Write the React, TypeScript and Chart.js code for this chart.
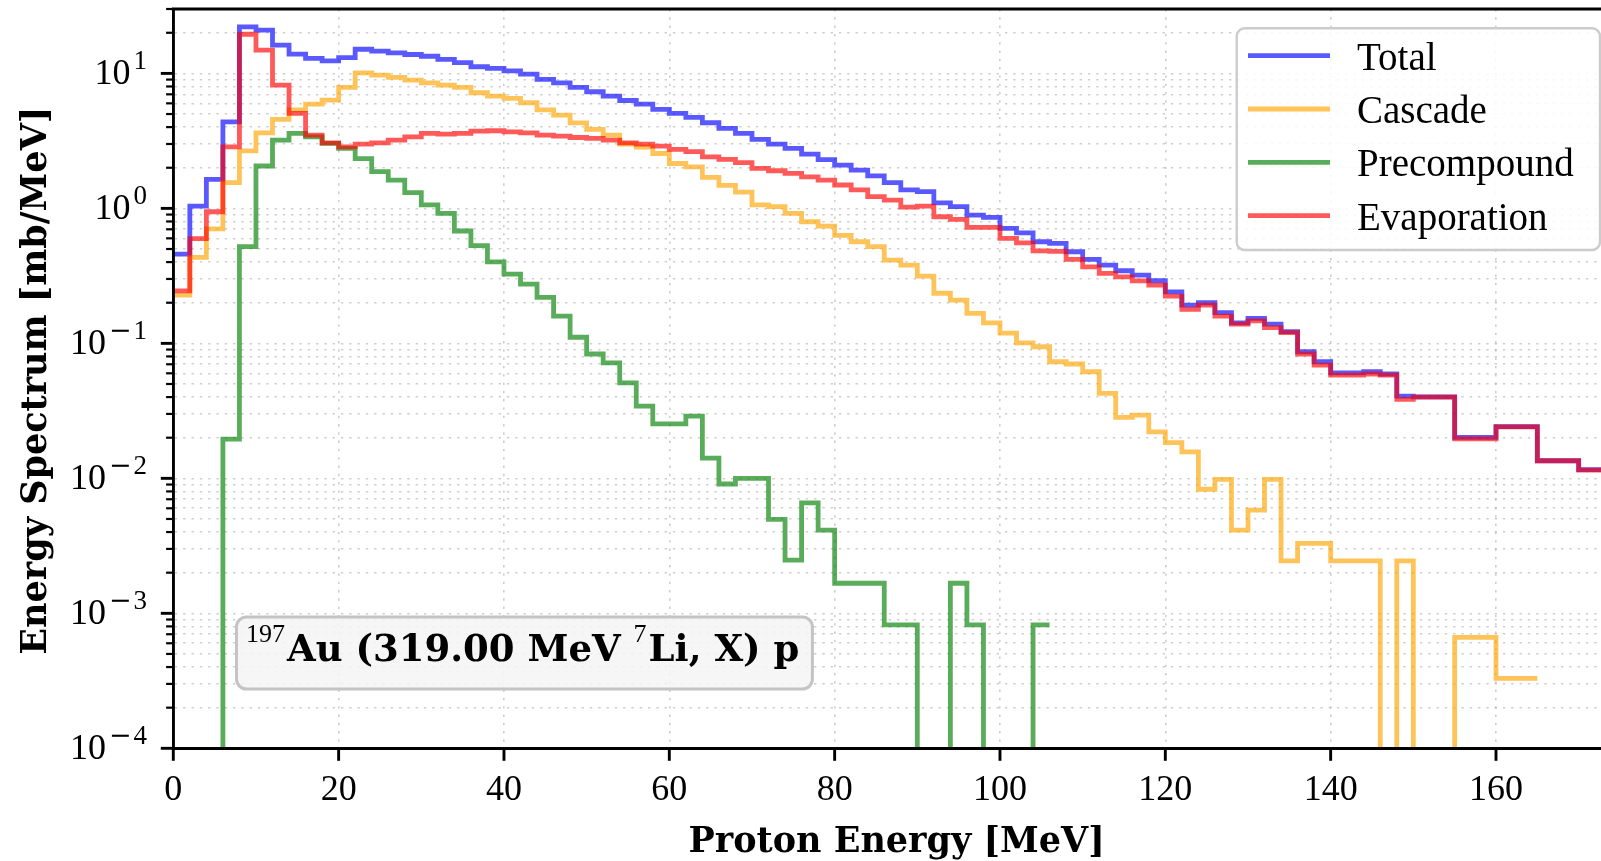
import React, { useEffect, useRef } from 'react';
import { Chart, registerables } from 'chart.js';

Chart.register(...registerables);

// ---------------- data ----------------
const binEdges: number[] = [
  0, 2, 4, 6, 8, 10, 12, 14, 16, 18, 20, 22, 24, 26, 28, 30, 32, 34, 36, 38,
  40, 42, 44, 46, 48, 50, 52, 54, 56, 58, 60, 62, 64, 66, 68, 70, 72, 74, 76, 78,
  80, 82, 84, 86, 88, 90, 92, 94, 96, 98, 100, 102, 104, 106, 108, 110, 112, 114, 116, 118,
  120, 122, 124, 126, 128, 130, 132, 134, 136, 138, 140, 142, 144, 146, 148, 150,
  155, 160, 165, 170, 175,
];

const totalValues: number[] = [
  0.458, 1.04, 1.64, 4.38, 22.1, 20.9, 16.2, 13.9, 12.9, 12.4,
  13.1, 15.1, 14.6, 14.2, 13.8, 13.4, 12.7, 12.0, 11.2, 10.9,
  10.45, 9.88, 9.02, 8.51, 7.87, 7.31, 6.79, 6.3, 5.93, 5.41,
  5.06, 4.72, 4.31, 3.91, 3.6, 3.24, 2.99, 2.78, 2.52, 2.3,
  2.09, 1.92, 1.74, 1.55, 1.37, 1.33, 1.1, 1.03, 0.892, 0.857,
  0.711, 0.659, 0.566, 0.551, 0.477, 0.419, 0.38, 0.345, 0.32, 0.291,
  0.241, 0.192, 0.2, 0.169, 0.142, 0.153, 0.139, 0.122, 0.0867, 0.0731,
  0.0605, 0.0605, 0.0616, 0.0593, 0.0407,
  0.0402, 0.0201, 0.0242, 0.0135, 0.0116,
];

const cascadeValues: number[] = [
  0.228, 0.434, 0.706, 1.55, 2.67, 3.63, 4.56, 5.36, 5.93, 6.34,
  7.87, 10.1, 9.7, 9.33, 8.91, 8.51, 8.19, 7.87, 7.19, 6.79,
  6.53, 6.06, 5.36, 4.91, 4.3, 3.85, 3.49, 3.0, 2.85, 2.55,
  2.15, 2.03, 1.7, 1.48, 1.32, 1.06, 1.03, 0.918, 0.796, 0.74,
  0.63, 0.566, 0.52, 0.414, 0.38, 0.315, 0.235, 0.209, 0.167, 0.142,
  0.119, 0.101, 0.0944, 0.0731, 0.0703, 0.0616, 0.0426, 0.0283, 0.0294, 0.0221,
  0.0184, 0.0157, 0.0083, 0.00984, 0.00414, 0.00582, 0.00984, 0.00245, 0.0033, 0.0033,
  0.00245, 0.00245, 0.00245, 0, 0.00245,
  0, 0.000664, 0.00033,
];

const precompoundValues: number[] = [
  0, 0, 0, 0.0195, 0.52, 2.06, 3.2, 3.6, 3.39, 3.03,
  2.78, 2.34, 1.87, 1.62, 1.31, 1.06, 0.918, 0.68, 0.53, 0.402,
  0.326, 0.275, 0.219, 0.159, 0.111, 0.0834, 0.0718, 0.051, 0.0343, 0.0253,
  0.0253, 0.0289, 0.0141, 0.00908, 0.01, 0.01, 0.00497, 0.00248, 0.00659, 0.00414,
  0.00167, 0.00167, 0.00167, 0.00082, 0.00082, 0, 0, 0.00167, 0.00082, 0,
  0, 0, 0.00082,
];

const evaporationValues: number[] = [
  0.245, 0.596, 0.944, 2.86, 19.5, 14.9, 8.19, 5.06, 3.49, 3.06,
  2.86, 2.99, 3.06, 3.2, 3.39, 3.6, 3.55, 3.6, 3.74, 3.76,
  3.69, 3.63, 3.49, 3.43, 3.35, 3.3, 3.2, 3.06, 2.99, 2.89,
  2.74, 2.63, 2.41, 2.31, 2.18, 1.98, 1.9, 1.82, 1.71, 1.62,
  1.49, 1.37, 1.22, 1.15, 1.02, 1.04, 0.867, 0.829, 0.723, 0.723,
  0.6, 0.556, 0.485, 0.48, 0.419, 0.369, 0.33, 0.311, 0.29, 0.27,
  0.224, 0.179, 0.192, 0.159, 0.139, 0.147, 0.131, 0.12, 0.0834, 0.069,
  0.0582, 0.0582, 0.0593, 0.0582, 0.0385,
  0.04, 0.0196, 0.0241, 0.0135, 0.0115,
];

const seriesLabels: string[] = ['Total', 'Cascade', 'Precompound', 'Evaporation'];
const seriesColors: string[] = [
  'rgba(0,0,255,0.65)',
  'rgba(255,165,0,0.65)',
  'rgba(0,128,0,0.65)',
  'rgba(255,0,0,0.65)',
];

const xTickValues: number[] = [0, 20, 40, 60, 80, 100, 120, 140, 160];
const yDecades: number[] = [1e-4, 1e-3, 1e-2, 1e-1, 1, 10];
const yMinorMultipliers: number[] = [2, 3, 4, 5, 6, 7, 8, 9];

const xTitle = 'Proton Energy [MeV]';
const yTitle = 'Energy Spectrum [mb/MeV]';
const annotationParts: { text: string; sup: boolean }[] = [
  { text: '197', sup: true },
  { text: 'Au (319.00 MeV ', sup: false },
  { text: '7', sup: true },
  { text: 'Li, X) p', sup: false },
];

// ---------------- layout / style ----------------
const X_MIN = 0;
const X_MAX = 175;
const Y_MIN = 1e-4;
const Y_MAX = 30;
const ZERO_FLOOR = 1e-7; // empty bins drawn below the axis floor (like -inf in log)

const CANVAS_W = 1620;
const CANVAS_H = 861;
const AREA_LEFT = 173.3;
const AREA_TOP = 9;
const AREA_BOTTOM = 748.3;

const SPINE_W = 2.9;
const MAJOR_TICK_LEN = 12.5;
const MINOR_TICK_LEN = 7.2;
const MAJOR_TICK_W = 2.9;
const MINOR_TICK_W = 2.2;
const LINE_W = 4.8;
const GRID_COLOR = 'rgba(160,160,160,0.5)';

const TICK_FONT = '36px "Liberation Serif"';
const SUP_FONT = '27px "Liberation Serif"';
const MINUS_FONT = '27px "DejaVu Serif"';
const TITLE_FONT = 'bold 35px "DejaVu Serif"';
const LEGEND_FONT = '39px "Liberation Serif"';
const ANN_FONT = 'bold 37px "DejaVu Serif"';
const ANN_SUP_FONT = '26px "Liberation Serif"';

const yTickValues: number[] = (() => {
  const out: number[] = [];
  yDecades.forEach((d) => {
    out.push(d);
    yMinorMultipliers.forEach((m) => {
      const v = d * m;
      if (v <= Y_MAX * 1.0000001) out.push(v);
    });
  });
  return out;
})();

const isDecade = (v: number) => Math.abs(Math.log10(v) - Math.round(Math.log10(v))) < 1e-6;

function stepPoints(values: number[]) {
  const pts = values.map((v, i) => ({ x: binEdges[i], y: v > 0 ? v : ZERO_FLOOR }));
  pts.push({ x: binEdges[values.length], y: pts[pts.length - 1].y });
  return pts;
}

const allSeries = [totalValues, cascadeValues, precompoundValues, evaporationValues];
const drawOrder = [4, 3, 2, 1]; // evaporation on top

const overlayPlugin = {
  id: 'overlay',
  afterDraw(chart: any) {
    const ctx: CanvasRenderingContext2D = chart.ctx;
    const area = chart.chartArea;
    const xs = chart.scales.x;
    const ys = chart.scales.y;
    ctx.save();
    ctx.setLineDash([]);
    ctx.strokeStyle = '#000';
    ctx.fillStyle = '#000';
    ctx.lineCap = 'butt';

    // top spine
    ctx.lineWidth = SPINE_W;
    ctx.beginPath();
    ctx.moveTo(area.left - SPINE_W / 2, area.top);
    ctx.lineTo(area.right, area.top);
    ctx.stroke();

    // x ticks
    ctx.lineWidth = MAJOR_TICK_W;
    xs.ticks.forEach((t: any) => {
      const px = xs.getPixelForValue(t.value);
      ctx.beginPath();
      ctx.moveTo(px, area.bottom);
      ctx.lineTo(px, area.bottom + MAJOR_TICK_LEN);
      ctx.stroke();
    });
    // y ticks
    ys.ticks.forEach((t: any) => {
      const py = ys.getPixelForValue(t.value);
      const major = isDecade(t.value);
      ctx.lineWidth = major ? MAJOR_TICK_W : MINOR_TICK_W;
      ctx.beginPath();
      ctx.moveTo(area.left, py);
      ctx.lineTo(area.left - (major ? MAJOR_TICK_LEN : MINOR_TICK_LEN), py);
      ctx.stroke();
    });

    // x tick labels
    ctx.font = TICK_FONT;
    ctx.textAlign = 'center';
    ctx.textBaseline = 'alphabetic';
    xs.ticks.forEach((t: any) => {
      ctx.fillText(String(t.value), xs.getPixelForValue(t.value), 800);
    });

    // y tick labels (10 with superscript exponent)
    const yLabelRight = 147;
    ctx.textAlign = 'left';
    ys.ticks.forEach((t: any) => {
      if (!isDecade(t.value)) return;
      const py = ys.getPixelForValue(t.value);
      const exp = Math.round(Math.log10(t.value));
      const digits = String(Math.abs(exp));
      ctx.font = SUP_FONT;
      const wDigits = ctx.measureText(digits).width;
      let wMinus = 0;
      if (exp < 0) {
        ctx.font = MINUS_FONT;
        wMinus = ctx.measureText('\u2212').width + 2;
      }
      const xDigits = yLabelRight - wDigits;
      const xMinus = xDigits - wMinus;
      ctx.font = TICK_FONT;
      const wBase = ctx.measureText('10').width;
      const xBase = xMinus - 3 - wBase;
      ctx.fillText('10', xBase, py + 11);
      ctx.font = SUP_FONT;
      ctx.fillText(digits, xDigits, py - 4);
      if (exp < 0) {
        ctx.font = MINUS_FONT;
        ctx.fillText('\u2212', xMinus, py - 4);
      }
    });

    // axis titles
    ctx.font = TITLE_FONT;
    ctx.textAlign = 'center';
    ctx.fillText(xTitle, (area.left + area.right) / 2, 851.5);
    ctx.save();
    ctx.translate(46, (area.top + area.bottom) / 2 + 2);
    ctx.rotate(-Math.PI / 2);
    ctx.fillText(yTitle, 0, 0);
    ctx.restore();

    // legend
    const lx = 1236.7, ly = 28.3, lw = 1600 - 1236.7, lh = 250 - 28.3;
    ctx.beginPath();
    (ctx as any).roundRect(lx, ly, lw, lh, 8);
    ctx.fillStyle = 'rgba(255,255,255,0.85)';
    ctx.fill();
    ctx.strokeStyle = '#cccccc';
    ctx.lineWidth = 2.4;
    ctx.stroke();
    const rowY = [55.7, 109, 162.3, 215.7];
    chart.data.datasets.forEach((ds: any, i: number) => {
      ctx.strokeStyle = ds.borderColor;
      ctx.lineWidth = LINE_W;
      ctx.beginPath();
      ctx.moveTo(1248, rowY[i]);
      ctx.lineTo(1330, rowY[i]);
      ctx.stroke();
      ctx.fillStyle = '#000';
      ctx.font = LEGEND_FONT;
      ctx.textAlign = 'left';
      ctx.fillText(ds.label, 1357, rowY[i] + 14);
    });

    // annotation box
    ctx.beginPath();
    (ctx as any).roundRect(236.5, 617, 812.4 - 236.5, 72, 10);
    ctx.fillStyle = 'rgba(245,245,245,0.85)';
    ctx.fill();
    ctx.strokeStyle = '#c4c4c4';
    ctx.lineWidth = 3;
    ctx.stroke();
    ctx.fillStyle = '#000';
    ctx.textAlign = 'left';
    let cx = 246;
    annotationParts.forEach((p) => {
      ctx.font = p.sup ? ANN_SUP_FONT : ANN_FONT;
      ctx.fillText(p.text, cx, p.sup ? 642 : 661);
      cx += ctx.measureText(p.text).width + (p.sup ? 2 : 0);
    });

    ctx.restore();
  },
};

export default function App() {
  const ref = useRef<HTMLCanvasElement>(null);
  useEffect(() => {
    const canvas = ref.current;
    if (!canvas) return;
    const datasets = allSeries.map((vals, i) => ({
      label: seriesLabels[i],
      data: stepPoints(vals),
      borderColor: seriesColors[i],
      backgroundColor: seriesColors[i],
      borderWidth: LINE_W,
      pointRadius: 0,
      pointHoverRadius: 0,
      stepped: true,
      tension: 0,
      fill: false,
      order: drawOrder[i],
      borderJoinStyle: 'miter' as const,
      borderCapStyle: 'butt' as const,
    }));
    const gridOpts = { color: GRID_COLOR, lineWidth: 1.6, drawTicks: false };
    const borderOpts = { display: true, color: '#000', width: SPINE_W, dash: [2.4, 5.9], z: 1 };
    const chart = new Chart(canvas, {
      type: 'line',
      data: { datasets },
      options: {
        animation: false,
        responsive: false,
        maintainAspectRatio: false,
        devicePixelRatio: 1,
        events: [],
        layout: { padding: { top: AREA_TOP, left: 0, right: 0, bottom: 0 } },
        plugins: {
          legend: { display: false },
          tooltip: { enabled: false },
          title: { display: false },
        },
        scales: {
          x: {
            type: 'linear',
            min: X_MIN,
            max: X_MAX,
            afterBuildTicks: (s: any) => {
              s.ticks = xTickValues.map((v) => ({ value: v }));
            },
            afterFit: (s: any) => {
              s.height = CANVAS_H - AREA_BOTTOM;
            },
            ticks: { display: false },
            grid: gridOpts,
            border: borderOpts,
          },
          y: {
            type: 'logarithmic',
            min: Y_MIN,
            max: Y_MAX,
            afterBuildTicks: (s: any) => {
              s.ticks = yTickValues.map((v) => ({ value: v, major: isDecade(v) }));
            },
            afterFit: (s: any) => {
              s.width = AREA_LEFT;
            },
            ticks: { display: false },
            grid: gridOpts,
            border: borderOpts,
          },
        },
      } as any,
      plugins: [overlayPlugin],
    });
    return () => chart.destroy();
  }, []);

  return (
    <div
      style={{
        position: 'fixed',
        left: 0,
        top: 0,
        width: 1601,
        height: 861,
        overflow: 'hidden',
        background: '#ffffff',
      }}
    >
      <canvas
        ref={ref}
        width={CANVAS_W}
        height={CANVAS_H}
        style={{ display: 'block', width: CANVAS_W, height: CANVAS_H }}
      />
    </div>
  );
}
